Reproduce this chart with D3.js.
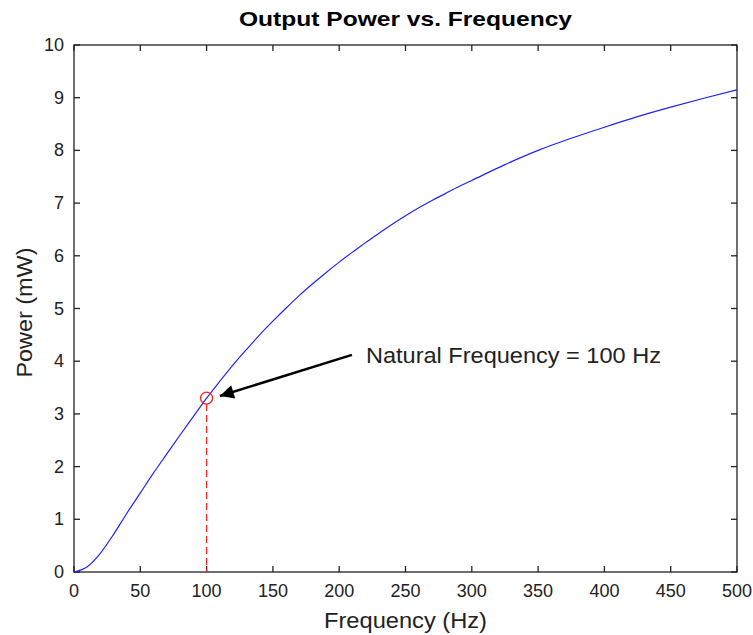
<!DOCTYPE html>
<meta charset="utf-8">
<script src="https://d3js.org/d3.v7.min.js"></script>
<style>
  body { margin: 0; background: #fff; }
  text { font-family: "Liberation Sans", Arial, sans-serif; fill: #222; }
</style>
<body>
<svg width="753" height="635"></svg>
<script>
// frequency (Hz) and output power (mW)
var freq  = [0, 10, 20, 30, 40, 50, 60, 70, 80, 90, 100, 110, 120, 130, 140, 150, 160, 170, 180, 190, 200,
             210, 220, 230, 240, 250, 260, 270, 280, 290, 300, 325, 350, 375, 400, 425, 450, 475, 500];
var power = [0, 0.1, 0.36, 0.72, 1.12, 1.50, 1.88, 2.24, 2.60, 2.95, 3.30, 3.62, 3.93, 4.22, 4.50, 4.76, 5.01, 5.25, 5.47, 5.68, 5.88,
             6.07, 6.25, 6.43, 6.60, 6.76, 6.91, 7.05, 7.18, 7.31, 7.43, 7.73, 8.00, 8.23, 8.44, 8.64, 8.82, 8.99, 9.15];
var xTicks = [0, 50, 100, 150, 200, 250, 300, 350, 400, 450, 500];
var yTicks = [0, 1, 2, 3, 4, 5, 6, 7, 8, 9, 10];
var natural = {f: 100, p: 3.30};
var note = {text: 'Natural Frequency = 100 Hz', tail: [209.6, 4.12], tip: [110, 3.34]};

var svg = d3.select('svg');
var pL = 74, pR = 737, pT = 45, pB = 572;

var x = d3.scaleLinear().domain([0, 500]).range([pL, pR]);
var y = d3.scaleLinear().domain([0, 10]).range([pB, pT]);

var pts = freq.map(function(f, i){ return [f, power[i]]; });

// axes box
svg.append('rect')
  .attr('x', pL).attr('y', pT)
  .attr('width', pR - pL).attr('height', pB - pT)
  .attr('fill', 'none').attr('stroke', '#222').attr('stroke-width', 1.3);

var tl = 6;
// ticks on all four sides, pointing in
var tg = svg.append('g').attr('stroke', '#222').attr('stroke-width', 1.3);
xTicks.forEach(function(t){
  tg.append('line').attr('x1', x(t)).attr('x2', x(t)).attr('y1', pB).attr('y2', pB - tl);
  tg.append('line').attr('x1', x(t)).attr('x2', x(t)).attr('y1', pT).attr('y2', pT + tl);
});
yTicks.forEach(function(t){
  tg.append('line').attr('y1', y(t)).attr('y2', y(t)).attr('x1', pL).attr('x2', pL + tl);
  tg.append('line').attr('y1', y(t)).attr('y2', y(t)).attr('x1', pR).attr('x2', pR - tl);
});

svg.append('g').selectAll('text').data(xTicks).enter().append('text')
  .attr('x', function(d){ return x(d); })
  .attr('y', pB + 25)
  .attr('text-anchor', 'middle')
  .style('font-size', '18px')
  .text(function(d){ return d; });

svg.append('g').selectAll('text').data(yTicks).enter().append('text')
  .attr('x', pL - 10)
  .attr('y', function(d){ return y(d) + 6; })
  .attr('text-anchor', 'end')
  .style('font-size', '18px')
  .text(function(d){ return d; });

// curve
var line = d3.line()
  .x(function(d){ return x(d[0]); })
  .y(function(d){ return y(d[1]); })
  .curve(d3.curveMonotoneX);

svg.append('path')
  .datum(pts)
  .attr('d', line)
  .attr('fill', 'none')
  .attr('stroke', '#2222ff')
  .attr('stroke-width', 1.2);

// natural frequency marker
svg.append('line')
  .attr('x1', x(natural.f)).attr('x2', x(natural.f))
  .attr('y1', y(natural.p) + 6).attr('y2', pB)
  .attr('stroke', '#ff2020').attr('stroke-width', 1.3)
  .attr('stroke-dasharray', '7,4');

svg.append('circle')
  .attr('cx', x(natural.f)).attr('cy', y(natural.p))
  .attr('r', 6)
  .attr('fill', 'none').attr('stroke', '#ff2020').attr('stroke-width', 1.3);

// annotation arrow
svg.append('defs').append('marker')
  .attr('id', 'head')
  .attr('viewBox', '0 0 10 10')
  .attr('refX', 10).attr('refY', 5)
  .attr('markerWidth', 18).attr('markerHeight', 14)
  .attr('markerUnits', 'userSpaceOnUse')
  .attr('orient', 'auto')
  .append('path').attr('d', 'M0,0 L10,5 L0,10 Z').attr('fill', '#000');

svg.append('line')
  .attr('x1', x(note.tail[0])).attr('y1', y(note.tail[1]))
  .attr('x2', x(note.tip[0])).attr('y2', y(note.tip[1]))
  .attr('stroke', '#000').attr('stroke-width', 2.5)
  .attr('marker-end', 'url(#head)');

svg.append('text')
  .attr('x', x(note.tail[0]) + 14)
  .attr('y', y(note.tail[1]) + 8)
  .attr('textLength', 295).attr('lengthAdjust', 'spacingAndGlyphs')
  .style('font-size', '22px')
  .text(note.text);

// titles
svg.append('text')
  .attr('x', (pL + pR) / 2).attr('y', 26)
  .attr('text-anchor', 'middle')
  .attr('textLength', 333).attr('lengthAdjust', 'spacingAndGlyphs')
  .style('font-size', '21px').style('font-weight', 'bold')
  .style('fill', '#000')
  .text('Output Power vs. Frequency');

svg.append('text')
  .attr('x', (pL + pR) / 2).attr('y', 628)
  .attr('text-anchor', 'middle')
  .attr('textLength', 163).attr('lengthAdjust', 'spacingAndGlyphs')
  .style('font-size', '22px')
  .text('Frequency (Hz)');

svg.append('text')
  .attr('transform', 'translate(32,' + ((pT + pB) / 2 + 4) + ') rotate(-90)')
  .attr('text-anchor', 'middle')
  .attr('textLength', 130).attr('lengthAdjust', 'spacingAndGlyphs')
  .style('font-size', '22px')
  .text('Power (mW)');
</script>
</body>
